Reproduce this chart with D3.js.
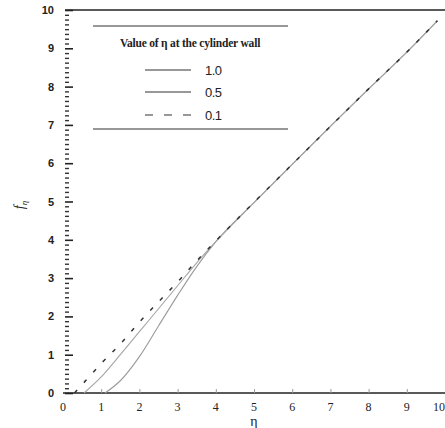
<!DOCTYPE html>
<html><head><meta charset="utf-8">
<script src="https://cdn.jsdelivr.net/npm/d3@7"></script>
<style>body{margin:0;background:#fff}svg{display:block}</style>
</head><body>
<script>
// ---- data ----
const xTicks = [0,1,2,3,4,5,6,7,8,9,10];
const yTicks = [0,1,2,3,4,5,6,7,8,9,10];
const seriesNames = ["1.0","0.5","0.1"];
const eta_w10 = [1.1,1.5,2.0,2.5,3.0,3.5,4.0,5.0,6.0,7.0,8.0,9.0,9.8];
const f_w10   = [0,0.32,0.95,1.75,2.55,3.3,3.95,4.97,5.97,6.96,7.94,8.9,9.72];
const eta_w05 = [0.55,1.0,1.5,2.0,2.5,3.0,3.5,4.0,5.0,6.0,7.0,8.0,9.0,9.8];
const f_w05   = [0,0.42,1.0,1.6,2.2,2.8,3.4,3.95,4.97,5.97,6.96,7.94,8.9,9.72];
const eta_w01 = [0.3,0.6,1.0,1.5,2.0,2.5,3.0,3.5,4.0,5.0,6.0,7.0,8.0,9.0,9.8];
const f_w01   = [0,0.33,0.77,1.28,1.85,2.38,2.9,3.45,3.97,4.98,5.97,6.96,7.94,8.9,9.72];

const W=445,H=428;
const svg=d3.select("body").append("svg").attr("width",W).attr("height",H);
const x=d3.scaleLinear().domain([0,10]).range([63,445]);
const y=d3.scaleLinear().domain([0,10]).range([393,10]);

// frame lines
svg.append("line").attr("x1",65).attr("x2",W).attr("y1",y(10)).attr("y2",y(10)).attr("stroke","#222").attr("stroke-width",1.4);
svg.append("line").attr("x1",63).attr("x2",W).attr("y1",y(0)).attr("y2",y(0)).attr("stroke","#222").attr("stroke-width",1.4);

// y axis ticks (inward)
const yAxis=d3.axisRight(y).tickValues(yTicks).tickSize(8).tickFormat("");
const gy=svg.append("g").attr("transform","translate(65,0)").call(yAxis);
gy.select(".domain").remove();
gy.selectAll("line").attr("stroke","#222").attr("stroke-width",1.6);
const minorY=d3.range(0,10.001,0.125).filter(v=>Math.abs(v-Math.round(v))>1e-6);
const gym=svg.append("g").attr("transform","translate(65,0)").call(d3.axisRight(y).tickValues(minorY).tickSize(4).tickFormat(""));
gym.select(".domain").remove();
gym.selectAll("line").attr("stroke","#333").attr("stroke-width",1.4);
svg.append("g").selectAll("text").data(yTicks).join("text")
  .attr("x",54).attr("y",d=>y(d)+4).attr("text-anchor","end")
  .attr("font-family","Liberation Sans, Arial, sans-serif").attr("font-weight","bold")
  .attr("font-size",11).attr("fill","#222").text(d=>d);

// x axis ticks (inward, small)
const gx=svg.append("g").attr("transform",`translate(0,${y(0)})`).call(d3.axisTop(x).tickValues(xTicks.slice(1)).tickSize(4).tickFormat(""));
gx.select(".domain").remove();
gx.selectAll("line").attr("stroke","#999").attr("stroke-width",1);
svg.append("g").selectAll("text").data(xTicks).join("text")
  .attr("x",d=>d===10?W:x(d)).attr("y",411).attr("text-anchor",d=>d===10?"end":"middle")
  .attr("font-family","Liberation Serif, Times New Roman, serif")
  .attr("font-size",12).attr("fill","#222").text(d=>d);

// axis titles
svg.append("text").attr("x",254).attr("y",426).attr("text-anchor","middle")
  .attr("font-family","Liberation Serif, serif").attr("font-size",14).attr("fill","#222").text("η");
const yt=svg.append("text").attr("transform","translate(24,205) rotate(-90)").attr("text-anchor","middle")
  .attr("font-family","Liberation Serif, serif").attr("font-style","italic").attr("font-size",14).attr("fill","#222");
yt.append("tspan").text("f");
yt.append("tspan").attr("dy",3).attr("font-size",9).text("η");

// curves
const line=d3.line().x(d=>x(d[0])).y(d=>y(d[1])).curve(d3.curveMonotoneX);
const series=[
  {name:seriesNames[0],pts:d3.zip(eta_w10,f_w10),dash:null,color:"#9a9a9a",w:1.1},
  {name:seriesNames[1],pts:d3.zip(eta_w05,f_w05),dash:null,color:"#a5a5a5",w:1.1},
  {name:seriesNames[2],pts:d3.zip(eta_w01,f_w01),dash:"4,10",color:"#333",w:1.5}
];
svg.append("g").selectAll("path").data(series).join("path")
  .attr("d",d=>line(d.pts)).attr("fill","none").attr("stroke",d=>d.color)
  .attr("stroke-width",d=>d.w).attr("stroke-dasharray",d=>d.dash);

// legend
svg.append("line").attr("x1",93).attr("x2",288).attr("y1",26).attr("y2",26).attr("stroke","#333").attr("stroke-width",1.2);
svg.append("line").attr("x1",93).attr("x2",288).attr("y1",129).attr("y2",129).attr("stroke","#333").attr("stroke-width",1.2);
svg.append("text").attr("x",190).attr("y",47).attr("text-anchor","middle")
  .attr("font-family","Liberation Serif, Times New Roman, serif").attr("font-weight","bold")
  .attr("font-size",11.5).attr("letter-spacing",-0.2).attr("fill","#222")
  .text("Value of η at the cylinder wall");
const legY=[70,92,115];
const lg=svg.append("g").selectAll("g").data(series).join("g").attr("transform",(d,i)=>`translate(0,${legY[i]})`);
lg.append("line").attr("x1",145).attr("x2",191).attr("stroke","#333").attr("stroke-width",1.2)
  .attr("stroke-dasharray",d=>d.dash?"8,11":null);
lg.append("text").attr("x",205).attr("y",5).attr("font-family","Liberation Sans, Arial, sans-serif")
  .attr("font-size",13).attr("fill","#222").attr("letter-spacing",-0.5).text(d=>d.name);
</script>
</body></html>
